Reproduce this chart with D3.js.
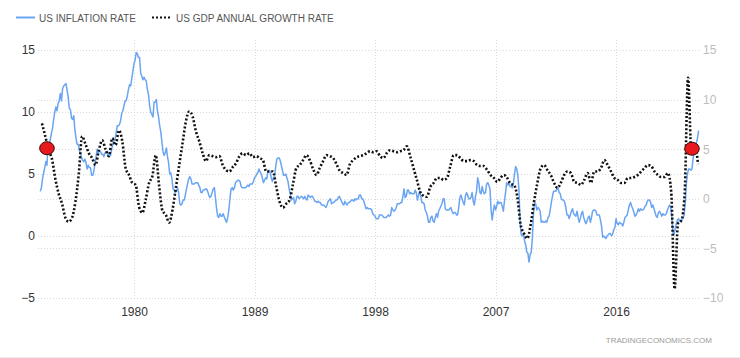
<!DOCTYPE html>
<html>
<head>
<meta charset="utf-8">
<script src="https://cdn.jsdelivr.net/npm/d3@7"></script>
<style>
  html, body { margin: 0; padding: 0; background: #fff; }
  svg { display: block; font-family: "Liberation Sans", Arial, sans-serif; }
</style>
</head>
<body>
<svg id="chart" width="740" height="358"></svg>
<script>
// ---------- DATA ----------
const seriesNames = ["US INFLATION RATE", "US GDP ANNUAL GROWTH RATE"];
const xTickYears = [1980, 1989, 1998, 2007, 2016];
const leftTicks = [15, 10, 5, 0, -5];
const rightTicks = [15, 10, 5, 0, -5, -10];

// US inflation rate, monthly YoY %, Jan 1973 .. Mar 2022 (one row per year)
const inflationStartYear = 1973;
const inflation = [
  [3.6, 3.9, 4.6, 5.1, 5.5, 6.0, 5.7, 7.4, 7.4, 7.8, 8.3, 8.7],
  [9.4, 10.0, 10.4, 10.1, 10.7, 10.9, 11.5, 10.9, 11.9, 12.1, 12.2, 12.3],
  [11.8, 11.2, 10.3, 10.2, 9.5, 9.4, 9.7, 8.6, 7.9, 7.4, 7.4, 6.9],
  [6.7, 6.3, 6.1, 6.0, 6.2, 5.9, 5.4, 5.7, 5.5, 5.5, 4.9, 4.9],
  [5.2, 5.9, 6.4, 7.0, 6.7, 6.9, 6.8, 6.6, 6.6, 6.4, 6.7, 6.8],
  [6.8, 6.4, 6.6, 6.5, 7.0, 7.4, 7.7, 7.8, 8.3, 8.9, 8.9, 9.0],
  [9.3, 9.9, 10.1, 10.5, 10.9, 10.9, 11.3, 11.8, 12.2, 12.1, 12.7, 13.3],
  [13.9, 14.2, 14.8, 14.7, 14.4, 14.4, 13.1, 12.9, 12.6, 12.8, 12.6, 12.5],
  [11.8, 11.4, 10.5, 10.0, 9.8, 9.6, 10.8, 10.8, 11.0, 10.1, 9.6, 8.9],
  [8.4, 7.6, 6.8, 6.5, 6.7, 7.1, 6.4, 5.9, 5.0, 5.1, 4.6, 3.8],
  [3.7, 3.5, 3.6, 3.9, 3.5, 2.6, 2.5, 2.6, 2.9, 2.9, 3.3, 3.8],
  [4.2, 4.6, 4.8, 4.6, 4.2, 4.2, 4.2, 4.3, 4.3, 4.3, 4.1, 3.9],
  [3.5, 3.5, 3.7, 3.7, 3.8, 3.8, 3.6, 3.3, 3.1, 3.2, 3.5, 3.8],
  [3.9, 3.1, 2.2, 1.6, 1.5, 1.8, 1.6, 1.6, 1.8, 1.5, 1.3, 1.1],
  [1.5, 2.1, 3.0, 3.8, 3.9, 3.7, 3.9, 4.3, 4.4, 4.5, 4.5, 4.4],
  [4.0, 3.9, 3.9, 3.9, 3.9, 4.0, 4.1, 4.0, 4.2, 4.2, 4.2, 4.4],
  [4.7, 4.8, 5.0, 5.1, 5.4, 5.2, 5.0, 4.7, 4.3, 4.5, 4.7, 4.6],
  [5.2, 5.3, 5.2, 4.7, 4.4, 4.7, 4.8, 5.6, 6.2, 6.3, 6.3, 6.1],
  [5.7, 5.3, 4.9, 4.9, 5.0, 4.7, 4.4, 3.8, 3.4, 2.9, 3.0, 3.1],
  [2.6, 2.8, 3.2, 3.2, 3.0, 3.1, 3.2, 3.1, 3.0, 3.2, 3.0, 2.9],
  [3.3, 3.2, 3.1, 3.2, 3.2, 3.0, 2.8, 2.8, 2.7, 2.8, 2.7, 2.7],
  [2.5, 2.5, 2.5, 2.4, 2.3, 2.5, 2.8, 2.9, 3.0, 2.6, 2.7, 2.7],
  [2.8, 2.9, 2.9, 3.1, 3.2, 3.0, 2.8, 2.6, 2.5, 2.8, 2.6, 2.5],
  [2.7, 2.7, 2.8, 2.9, 2.9, 2.8, 3.0, 2.9, 3.0, 3.0, 3.3, 3.3],
  [3.0, 3.0, 2.8, 2.5, 2.2, 2.3, 2.2, 2.2, 2.2, 2.1, 1.8, 1.7],
  [1.6, 1.4, 1.4, 1.4, 1.7, 1.7, 1.7, 1.6, 1.5, 1.5, 1.5, 1.6],
  [1.7, 1.6, 1.7, 2.3, 2.1, 2.0, 2.1, 2.3, 2.6, 2.6, 2.6, 2.7],
  [2.7, 3.2, 3.8, 3.1, 3.2, 3.7, 3.7, 3.4, 3.5, 3.4, 3.4, 3.4],
  [3.7, 3.5, 2.9, 3.3, 3.6, 3.2, 2.7, 2.7, 2.6, 2.1, 1.9, 1.6],
  [1.1, 1.1, 1.5, 1.6, 1.2, 1.1, 1.5, 1.8, 1.5, 2.0, 2.2, 2.4],
  [2.6, 3.0, 3.0, 2.2, 2.1, 2.1, 2.1, 2.2, 2.3, 2.0, 1.8, 1.9],
  [1.9, 1.7, 1.7, 2.3, 3.1, 3.3, 3.0, 2.7, 2.5, 3.2, 3.5, 3.3],
  [3.0, 3.0, 3.1, 3.5, 2.8, 2.5, 3.2, 3.6, 4.7, 4.3, 3.5, 3.4],
  [4.0, 3.6, 3.4, 3.5, 4.2, 4.3, 4.1, 3.8, 2.1, 1.3, 2.0, 2.5],
  [2.1, 2.4, 2.8, 2.6, 2.7, 2.7, 2.4, 2.0, 2.8, 3.5, 4.3, 4.1],
  [4.3, 4.0, 4.0, 3.9, 4.2, 5.0, 5.6, 5.4, 4.9, 3.7, 1.1, 0.1],
  [0.0, 0.2, -0.4, -0.7, -1.3, -1.4, -2.1, -1.5, -1.3, -0.2, 1.8, 2.7],
  [2.6, 2.1, 2.3, 2.2, 2.0, 1.1, 1.2, 1.1, 1.1, 1.2, 1.1, 1.5],
  [1.6, 2.1, 2.7, 3.2, 3.6, 3.6, 3.6, 3.8, 3.9, 3.5, 3.4, 3.0],
  [2.9, 2.9, 2.7, 2.3, 1.7, 1.7, 1.4, 1.7, 2.0, 2.2, 1.8, 1.7],
  [1.6, 2.0, 1.5, 1.1, 1.4, 1.8, 2.0, 1.5, 1.2, 1.0, 1.2, 1.5],
  [1.6, 1.1, 1.5, 2.0, 2.1, 2.1, 2.0, 1.7, 1.7, 1.7, 1.3, 0.8],
  [-0.1, 0.0, -0.1, -0.2, 0.0, 0.1, 0.2, 0.2, 0.0, 0.2, 0.5, 0.7],
  [1.4, 1.0, 0.9, 1.1, 1.0, 1.0, 0.8, 1.1, 1.5, 1.6, 1.7, 2.1],
  [2.5, 2.7, 2.4, 2.2, 1.9, 1.6, 1.7, 1.9, 2.2, 2.0, 2.2, 2.1],
  [2.1, 2.2, 2.4, 2.5, 2.8, 2.9, 2.9, 2.7, 2.3, 2.5, 2.2, 1.9],
  [1.6, 1.5, 1.9, 2.0, 1.8, 1.6, 1.8, 1.7, 1.7, 1.8, 2.1, 2.3],
  [2.5, 2.3, 1.5, 0.3, 0.1, 0.6, 1.0, 1.3, 1.4, 1.2, 1.2, 1.4],
  [1.4, 1.7, 2.6, 4.2, 5.0, 5.4, 5.4, 5.3, 5.4, 6.2, 6.8, 7.0],
  [7.5, 7.9, 8.5]
];

// US GDP annual growth rate, quarterly %, Q1 1973 .. Q1 2022 (one row per year)
const gdpStartYear = 1973;
const gdp = [
  [7.6, 6.3, 4.9, 4.0],
  [2.0, 0.5, -0.5, -1.9],
  [-2.3, -1.9, -0.3, 2.5],
  [6.3, 5.5, 4.6, 4.1],
  [3.4, 4.9, 5.9, 5.0],
  [4.3, 6.1, 5.4, 6.9],
  [5.8, 3.1, 2.4, 1.6],
  [1.4, -0.8, -1.4, -0.1],
  [1.6, 2.3, 4.4, 1.3],
  [-1.2, -1.6, -2.4, -1.1],
  [1.1, 3.4, 5.6, 7.8],
  [8.8, 8.3, 6.8, 5.8],
  [4.6, 3.8, 4.4, 4.3],
  [4.2, 4.3, 3.4, 2.9],
  [2.75, 3.2, 3.6, 4.3],
  [4.6, 4.4, 4.6, 4.2],
  [4.3, 4.1, 3.9, 2.75],
  [2.75, 2.75, 1.2, -0.3],
  [-0.9, -0.5, -0.1, 1.5],
  [3.1, 3.4, 3.9, 4.4],
  [3.9, 3.0, 2.4, 3.1],
  [3.8, 4.4, 4.3, 4.1],
  [3.5, 2.8, 2.6, 2.4],
  [3.5, 3.9, 4.2, 4.3],
  [4.4, 4.6, 4.8, 4.7],
  [4.8, 4.3, 4.1, 4.6],
  [4.9, 4.8, 4.7, 4.8],
  [4.9, 5.3, 4.3, 3.1],
  [1.9, 0.7, 0.3, 0.2],
  [1.2, 1.6, 2.1, 2.1],
  [1.9, 2.1, 3.3, 4.4],
  [4.4, 4.1, 3.8, 3.8],
  [3.9, 3.8, 3.4, 3.3],
  [3.3, 2.9, 2.4, 2.1],
  [1.7, 2.1, 2.4, 2.1],
  [1.5, 1.4, 0.2, -2.6],
  [-3.5, -4.0, -2.6, -0.3],
  [1.6, 3.1, 3.4, 2.9],
  [2.4, 1.6, 1.1, 1.6],
  [2.4, 2.75, 2.6, 1.7],
  [1.6, 1.4, 1.9, 2.6],
  [1.6, 2.75, 2.75, 3.1],
  [3.9, 3.4, 2.75, 2.1],
  [1.9, 1.6, 1.6, 2.1],
  [2.1, 2.2, 2.4, 2.75],
  [3.1, 3.4, 3.3, 2.75],
  [2.4, 2.2, 2.2, 2.6],
  [0.6, -9.1, -2.5, -2.2],
  [0.5, 12.2, 4.9, 5.5],
  [3.5]
];

// red markers (decimal year, value on GDP axis)
const markerDates = [1973.5, 2021.67];
const markerValues = [5.1, 5.05];

// ---------- BUILD ----------
const inflationPts = [];
inflation.forEach((row, i) => row.forEach((v, m) =>
  inflationPts.push({ t: inflationStartYear + i + m / 12, v })));
const gdpPts = [];
gdp.forEach((row, i) => row.forEach((v, q) =>
  gdpPts.push({ t: gdpStartYear + i + q / 4 + 0.125, v })));

const svg = d3.select("#chart");
const W = 740, H = 358;
const plot = { left: 38, right: 700, top: 40, bottom: 298 };

const x = d3.scaleLinear().domain([1972.83, 2022.27]).range([plot.left, plot.right]);
const yL = d3.scaleLinear().domain([-5, 15]).range([plot.bottom, 50]);
const yR = d3.scaleLinear().domain([-10, 15]).range([plot.bottom, 50]);

svg.append("rect").attr("width", W).attr("height", H).attr("fill", "#fff");

// gridlines
const grid = svg.append("g").attr("stroke", "#d9d9d9").attr("stroke-width", 1)
  .attr("stroke-dasharray", "1,2").attr("shape-rendering", "crispEdges");
const hLines = Array.from(new Set(leftTicks.map(d => Math.round(yL(d)))
  .concat(rightTicks.map(d => Math.round(yR(d))))));
grid.selectAll("line.h").data(hLines).join("line").attr("class", "h")
  .attr("x1", plot.left).attr("x2", plot.right)
  .attr("y1", d => d + 0.5).attr("y2", d => d + 0.5);
grid.selectAll("line.v").data(xTickYears).join("line").attr("class", "v")
  .attr("x1", d => Math.round(x(d)) + 0.5).attr("x2", d => Math.round(x(d)) + 0.5)
  .attr("y1", plot.top).attr("y2", plot.bottom);

// left axis
const axL = svg.append("g").attr("transform", `translate(${plot.left - 1},0)`)
  .call(d3.axisLeft(yL).tickValues(leftTicks).tickSize(0).tickPadding(2).tickFormat(d3.format("d")));
axL.select(".domain").remove();
axL.selectAll("text").attr("fill", "#333").style("font-size", "12px")
  .style("font-family", "'Liberation Sans', Arial, sans-serif");

// right axis
const axR = svg.append("g").attr("transform", `translate(${plot.right + 1},0)`)
  .call(d3.axisRight(yR).tickValues(rightTicks).tickSize(0).tickPadding(2).tickFormat(d3.format("d")));
axR.select(".domain").remove();
axR.selectAll("text").attr("fill", "#bdbdbd").style("font-size", "12px")
  .style("font-family", "'Liberation Sans', Arial, sans-serif");

// bottom axis
const axB = svg.append("g").attr("transform", `translate(0,${plot.bottom + 6})`)
  .call(d3.axisBottom(x).tickValues(xTickYears).tickSize(0).tickPadding(3).tickFormat(d3.format("d")));
axB.select(".domain").remove();
axB.selectAll("text").attr("fill", "#333").style("font-size", "12px")
  .style("font-family", "'Liberation Sans', Arial, sans-serif");

// inflation line
svg.append("path").datum(inflationPts)
  .attr("fill", "none").attr("stroke", "#6aa5f2").attr("stroke-width", 1.5)
  .attr("stroke-linejoin", "round")
  .attr("d", d3.line().x(d => x(d.t)).y(d => yL(d.v)));

// GDP dotted line
svg.append("path").datum(gdpPts)
  .attr("fill", "none").attr("stroke", "#111").attr("stroke-width", 2.6)
  .attr("stroke-dasharray", "2,2")
  .attr("d", d3.line().curve(d3.curveMonotoneX).x(d => x(d.t)).y(d => yR(d.v)));

// red markers
svg.selectAll("ellipse.mk").data(markerDates.map((t, i) => ({ t, v: markerValues[i] })))
  .join("ellipse").attr("class", "mk")
  .attr("cx", d => x(d.t)).attr("cy", d => yR(d.v))
  .attr("rx", 7.3).attr("ry", 6.5)
  .attr("fill", "#e8191c").attr("stroke", "#3a0a0a").attr("stroke-width", 1);

// legend
const lg = svg.append("g");
lg.append("line").attr("x1", 16).attr("x2", 35).attr("y1", 17.5).attr("y2", 17.5)
  .attr("stroke", "#6aa5f2").attr("stroke-width", 2);
lg.append("text").attr("x", 39).attr("y", 22).text(seriesNames[0])
  .attr("fill", "#555").style("font-size", "10px");
lg.append("line").attr("x1", 152).attr("x2", 172).attr("y1", 17.5).attr("y2", 17.5)
  .attr("stroke", "#111").attr("stroke-width", 2.2).attr("stroke-dasharray", "2,2");
lg.append("text").attr("x", 176).attr("y", 22).text(seriesNames[1])
  .attr("fill", "#555").style("font-size", "10px");

// watermark
svg.append("text").attr("x", 712).attr("y", 343).attr("text-anchor", "end")
  .text("TRADINGECONOMICS.COM").attr("fill", "#9a9a9a").style("font-size", "8px");

// bottom border
svg.append("line").attr("x1", 0).attr("x2", W).attr("y1", 357.5).attr("y2", 357.5)
  .attr("stroke", "#eeeeee");
</script>
</body>
</html>
